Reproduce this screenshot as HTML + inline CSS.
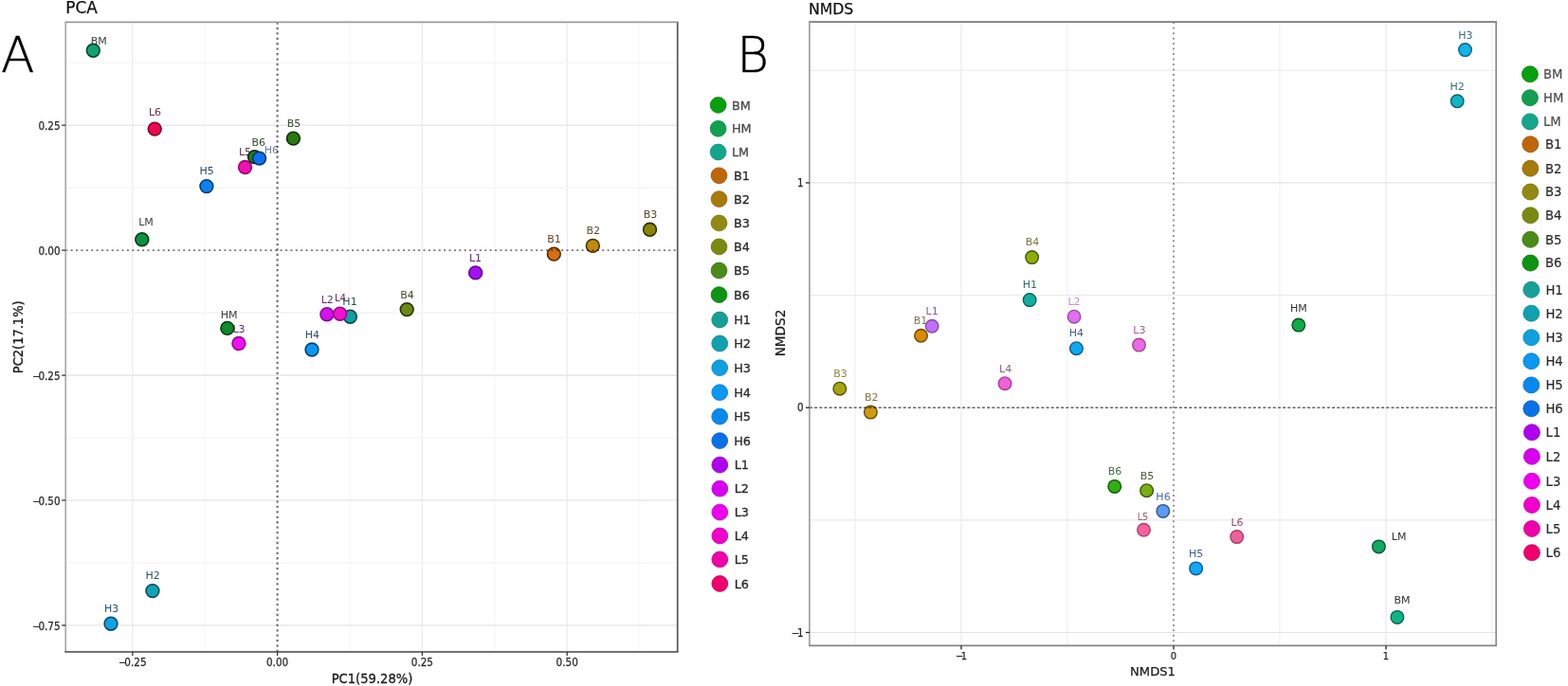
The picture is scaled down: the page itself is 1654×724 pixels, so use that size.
<!DOCTYPE html>
<html><head><meta charset="utf-8"><title>PCA and NMDS</title>
<style>html,body{margin:0;padding:0;background:#fff;}body{width:1654px;height:724px;overflow:hidden;}svg{display:block;}#w{width:1654px;height:724px;}</style>
</head><body><div id="w">
<svg width="1654" height="724" viewBox="0 0 1654 724" font-family='"DejaVu Sans", "Liberation Sans", sans-serif'>
<rect width="1654" height="724" fill="#ffffff"/>
<line x1="216.2" y1="23.4" x2="216.2" y2="688.0" stroke="#f9f9f9" stroke-width="1.6"/>
<line x1="369.0" y1="23.4" x2="369.0" y2="688.0" stroke="#f9f9f9" stroke-width="1.6"/>
<line x1="521.8" y1="23.4" x2="521.8" y2="688.0" stroke="#f9f9f9" stroke-width="1.6"/>
<line x1="674.6" y1="23.4" x2="674.6" y2="688.0" stroke="#f9f9f9" stroke-width="1.6"/>
<line x1="139.8" y1="23.4" x2="139.8" y2="688.0" stroke="#eeeeee" stroke-width="1.6"/>
<line x1="445.4" y1="23.4" x2="445.4" y2="688.0" stroke="#eeeeee" stroke-width="1.6"/>
<line x1="598.2" y1="23.4" x2="598.2" y2="688.0" stroke="#eeeeee" stroke-width="1.6"/>
<line x1="69.2" y1="66.2" x2="714.7" y2="66.2" stroke="#f6f6f6" stroke-width="1.6"/>
<line x1="69.2" y1="198.1" x2="714.7" y2="198.1" stroke="#f6f6f6" stroke-width="1.6"/>
<line x1="69.2" y1="330.1" x2="714.7" y2="330.1" stroke="#f6f6f6" stroke-width="1.6"/>
<line x1="69.2" y1="462.0" x2="714.7" y2="462.0" stroke="#f6f6f6" stroke-width="1.6"/>
<line x1="69.2" y1="594.0" x2="714.7" y2="594.0" stroke="#f6f6f6" stroke-width="1.6"/>
<line x1="69.2" y1="132.2" x2="714.7" y2="132.2" stroke="#e9e9e9" stroke-width="1.6"/>
<line x1="69.2" y1="396.1" x2="714.7" y2="396.1" stroke="#e9e9e9" stroke-width="1.6"/>
<line x1="69.2" y1="528.0" x2="714.7" y2="528.0" stroke="#e9e9e9" stroke-width="1.6"/>
<line x1="69.2" y1="660.0" x2="714.7" y2="660.0" stroke="#e9e9e9" stroke-width="1.6"/>
<circle cx="98.3" cy="53.3" r="10" fill="#fff"/>
<circle cx="239.8" cy="346.4" r="10" fill="#fff"/>
<circle cx="149.8" cy="252.7" r="10" fill="#fff"/>
<circle cx="584.3" cy="268.1" r="10" fill="#fff"/>
<circle cx="625.3" cy="259.4" r="10" fill="#fff"/>
<circle cx="685.5" cy="242.3" r="10" fill="#fff"/>
<circle cx="429.2" cy="326.6" r="10" fill="#fff"/>
<circle cx="309.4" cy="146.1" r="10" fill="#fff"/>
<circle cx="268.5" cy="165.6" r="10" fill="#fff"/>
<circle cx="369.4" cy="334.2" r="10" fill="#fff"/>
<circle cx="160.9" cy="623.6" r="10" fill="#fff"/>
<circle cx="117.0" cy="658.2" r="10" fill="#fff"/>
<circle cx="329.0" cy="369.0" r="10" fill="#fff"/>
<circle cx="217.9" cy="196.6" r="10" fill="#fff"/>
<circle cx="273.6" cy="167.1" r="10" fill="#fff"/>
<circle cx="501.6" cy="287.9" r="10" fill="#fff"/>
<circle cx="344.9" cy="331.7" r="10" fill="#fff"/>
<circle cx="251.9" cy="362.5" r="10" fill="#fff"/>
<circle cx="358.7" cy="331.2" r="10" fill="#fff"/>
<circle cx="258.5" cy="176.5" r="10" fill="#fff"/>
<circle cx="163.2" cy="136.1" r="10" fill="#fff"/>
<text x="104.2" y="47.0" fill="#404040" font-size="11" text-anchor="middle">BM</text>
<text x="241.7" y="336.4" fill="#404040" font-size="11" text-anchor="middle">HM</text>
<text x="154.0" y="238.0" fill="#404040" font-size="11" text-anchor="middle">LM</text>
<text x="584.6" y="255.7" fill="#61462d" font-size="11" text-anchor="middle">B1</text>
<text x="625.8" y="247.4" fill="#5c4d2c" font-size="11" text-anchor="middle">B2</text>
<text x="685.9" y="230.0" fill="#4d4c2a" font-size="11" text-anchor="middle">B3</text>
<text x="429.5" y="314.6" fill="#454d2d" font-size="11" text-anchor="middle">B4</text>
<text x="309.9" y="134.0" fill="#34492d" font-size="11" text-anchor="middle">B5</text>
<text x="272.8" y="153.9" fill="#304930" font-size="11" text-anchor="middle">B6</text>
<text x="369.0" y="322.0" fill="#2d5353" font-size="11" text-anchor="middle">H1</text>
<text x="161.1" y="611.4" fill="#2d5459" font-size="11" text-anchor="middle">H2</text>
<text x="117.6" y="646.2" fill="#2d5364" font-size="11" text-anchor="middle">H3</text>
<text x="329.3" y="357.4" fill="#2c5068" font-size="11" text-anchor="middle">H4</text>
<text x="218.2" y="184.0" fill="#2c4b67" font-size="11" text-anchor="middle">H5</text>
<text x="286.3" y="162.3" fill="#6a8498" font-size="11" text-anchor="middle">H6</text>
<text x="501.5" y="276.2" fill="#542d68" font-size="11" text-anchor="middle">L1</text>
<text x="345.2" y="320.0" fill="#612d68" font-size="11" text-anchor="middle">L2</text>
<text x="252.0" y="350.5" fill="#672d67" font-size="11" text-anchor="middle">L3</text>
<text x="359.0" y="318.2" fill="#682d5f" font-size="10.2" text-anchor="middle">L4</text>
<text x="258.5" y="163.7" fill="#672d57" font-size="11" text-anchor="middle">L5</text>
<text x="163.5" y="122.0" fill="#672c3e" font-size="11" text-anchor="middle">L6</text>
<circle cx="98.3" cy="53.3" r="6.9" fill="#12a272" stroke="#084430" stroke-width="1.6"/>
<circle cx="239.8" cy="346.4" r="6.9" fill="#0c8c2c" stroke="#053812" stroke-width="1.6"/>
<circle cx="149.8" cy="252.7" r="6.9" fill="#0c923e" stroke="#053a19" stroke-width="1.6"/>
<circle cx="584.3" cy="268.1" r="6.9" fill="#d8700e" stroke="#4c2705" stroke-width="1.6"/>
<circle cx="625.3" cy="259.4" r="6.9" fill="#c48a0c" stroke="#453004" stroke-width="1.6"/>
<circle cx="685.5" cy="242.3" r="6.9" fill="#8c8604" stroke="#312f01" stroke-width="1.6"/>
<circle cx="429.2" cy="326.6" r="6.9" fill="#6a8a10" stroke="#253006" stroke-width="1.6"/>
<circle cx="309.4" cy="146.1" r="6.9" fill="#2a7c10" stroke="#0f2b06" stroke-width="1.6"/>
<circle cx="268.5" cy="165.6" r="6.9" fill="#1a7c1a" stroke="#092b09" stroke-width="1.6"/>
<circle cx="369.4" cy="334.2" r="6.9" fill="#10a0a0" stroke="#074848" stroke-width="1.6"/>
<circle cx="160.9" cy="623.6" r="6.9" fill="#10a4b8" stroke="#074a53" stroke-width="1.6"/>
<circle cx="117.0" cy="658.2" r="6.9" fill="#10a0e4" stroke="#074867" stroke-width="1.6"/>
<circle cx="329.0" cy="369.0" r="6.9" fill="#0c98f2" stroke="#05446d" stroke-width="1.6"/>
<circle cx="217.9" cy="196.6" r="6.9" fill="#0c82f0" stroke="#053a6c" stroke-width="1.6"/>
<circle cx="273.6" cy="167.1" r="6.9" fill="#0c70f0" stroke="#05326c" stroke-width="1.6"/>
<circle cx="501.6" cy="287.9" r="6.9" fill="#a410f2" stroke="#660a96" stroke-width="1.6"/>
<circle cx="344.9" cy="331.7" r="6.9" fill="#d810f2" stroke="#860a96" stroke-width="1.6"/>
<circle cx="251.9" cy="362.5" r="6.9" fill="#f010f0" stroke="#950a95" stroke-width="1.6"/>
<circle cx="358.7" cy="331.2" r="6.9" fill="#f410d0" stroke="#970a81" stroke-width="1.6"/>
<circle cx="258.5" cy="176.5" r="6.9" fill="#f010b0" stroke="#950a6d" stroke-width="1.6"/>
<circle cx="163.2" cy="136.1" r="6.9" fill="#ee0a50" stroke="#770528" stroke-width="1.6"/>
<line x1="69.2" y1="264.1" x2="714.7" y2="264.1" stroke="#000" stroke-opacity="0.52" stroke-width="1.9" stroke-dasharray="2.1 3.29"/>
<line x1="292.6" y1="23.4" x2="292.6" y2="688.0" stroke="#000" stroke-opacity="0.58" stroke-width="2.1" stroke-dasharray="2.3 3.13"/>
<line x1="68.35000000000001" y1="23.4" x2="715.5500000000001" y2="23.4" stroke="#9a9a9a" stroke-width="1.7"/>
<line x1="69.2" y1="23.4" x2="69.2" y2="688.0" stroke="#ababab" stroke-width="1.7"/>
<line x1="714.7" y1="23.4" x2="714.7" y2="688.0" stroke="#555555" stroke-width="1.7"/>
<line x1="68.35000000000001" y1="688.0" x2="715.5500000000001" y2="688.0" stroke="#444444" stroke-width="1.7"/>
<line x1="139.8" y1="688.0" x2="139.8" y2="692.0" stroke="#333" stroke-width="1.3"/>
<text x="139.8" y="703.4" fill="#2a2a2a" font-size="11.6" font-stretch="condensed" text-anchor="middle" stroke="#2a2a2a" stroke-width="0.25">−<tspan dx="-2.5">0.25</tspan></text>
<line x1="292.6" y1="688.0" x2="292.6" y2="692.0" stroke="#333" stroke-width="1.3"/>
<text x="292.6" y="703.4" fill="#2a2a2a" font-size="11.6" font-stretch="condensed" text-anchor="middle" stroke="#2a2a2a" stroke-width="0.25">0.00</text>
<line x1="445.4" y1="688.0" x2="445.4" y2="692.0" stroke="#333" stroke-width="1.3"/>
<text x="445.4" y="703.4" fill="#2a2a2a" font-size="11.6" font-stretch="condensed" text-anchor="middle" stroke="#2a2a2a" stroke-width="0.25">0.25</text>
<line x1="598.2" y1="688.0" x2="598.2" y2="692.0" stroke="#333" stroke-width="1.3"/>
<text x="598.2" y="703.4" fill="#2a2a2a" font-size="11.6" font-stretch="condensed" text-anchor="middle" stroke="#2a2a2a" stroke-width="0.25">0.50</text>
<line x1="65.2" y1="132.2" x2="69.2" y2="132.2" stroke="#333" stroke-width="1.3"/>
<text x="63.6" y="137.4" fill="#2a2a2a" font-size="11.6" font-stretch="condensed" text-anchor="end" stroke="#2a2a2a" stroke-width="0.25">0.25</text>
<line x1="65.2" y1="264.1" x2="69.2" y2="264.1" stroke="#333" stroke-width="1.3"/>
<text x="63.6" y="269.3" fill="#2a2a2a" font-size="11.6" font-stretch="condensed" text-anchor="end" stroke="#2a2a2a" stroke-width="0.25">0.00</text>
<line x1="65.2" y1="396.1" x2="69.2" y2="396.1" stroke="#333" stroke-width="1.3"/>
<text x="63.6" y="401.2" fill="#2a2a2a" font-size="11.6" font-stretch="condensed" text-anchor="end" stroke="#2a2a2a" stroke-width="0.25">−<tspan dx="-2.5">0.25</tspan></text>
<line x1="65.2" y1="528.0" x2="69.2" y2="528.0" stroke="#333" stroke-width="1.3"/>
<text x="63.6" y="533.2" fill="#2a2a2a" font-size="11.6" font-stretch="condensed" text-anchor="end" stroke="#2a2a2a" stroke-width="0.25">−<tspan dx="-2.5">0.50</tspan></text>
<line x1="65.2" y1="660.0" x2="69.2" y2="660.0" stroke="#333" stroke-width="1.3"/>
<text x="63.6" y="665.2" fill="#2a2a2a" font-size="11.6" font-stretch="condensed" text-anchor="end" stroke="#2a2a2a" stroke-width="0.25">−<tspan dx="-2.5">0.75</tspan></text>
<text x="392.5" y="720.6" fill="#1a1a1a" stroke="#1a1a1a" stroke-width="0.3" font-size="14.6" font-stretch="condensed" text-anchor="middle">PC1(59.28%)</text>
<text transform="translate(24.0,355.8) rotate(-90)" fill="#1a1a1a" stroke="#1a1a1a" stroke-width="0.3" font-size="14.5" font-stretch="condensed" text-anchor="middle">PC2(17.1%)</text>
<text x="69.3" y="14.4" fill="#111" stroke="#111" stroke-width="0.25" font-size="16.9">PCA</text>
<text x="1.0" y="75.6" fill="#000" stroke="#000" stroke-width="0.45" font-size="51.8" font-weight="200">A</text>
<circle cx="757.6" cy="110.9" r="8.4" fill="#08a010" stroke="#06800d" stroke-width="0.8"/>
<text x="771.9" y="115.5" fill="#4a4a4a" stroke="#4a4a4a" font-size="12.8" stroke-width="0.3">BM</text>
<circle cx="757.6" cy="135.8" r="8.4" fill="#10a050" stroke="#0d8040" stroke-width="0.8"/>
<text x="771.9" y="140.4" fill="#4a4a4a" stroke="#4a4a4a" font-size="12.8" stroke-width="0.3">HM</text>
<circle cx="757.6" cy="160.5" r="8.4" fill="#14a68a" stroke="#10856e" stroke-width="0.8"/>
<text x="771.9" y="165.1" fill="#4a4a4a" stroke="#4a4a4a" font-size="12.8" stroke-width="0.3">LM</text>
<circle cx="758.5" cy="185.3" r="8.4" fill="#c0660a" stroke="#9a5208" stroke-width="0.8"/>
<text x="773.9" y="189.9" fill="#2a2a2a" stroke="#2a2a2a" font-size="12.8" stroke-width="0.3">B1</text>
<circle cx="758.5" cy="210.1" r="8.4" fill="#a87a0a" stroke="#866208" stroke-width="0.8"/>
<text x="773.9" y="214.7" fill="#2a2a2a" stroke="#2a2a2a" font-size="12.8" stroke-width="0.3">B2</text>
<circle cx="758.5" cy="235.4" r="8.4" fill="#928a10" stroke="#756e0d" stroke-width="0.8"/>
<text x="773.9" y="240.0" fill="#2a2a2a" stroke="#2a2a2a" font-size="12.8" stroke-width="0.3">B3</text>
<circle cx="758.5" cy="260.4" r="8.4" fill="#7a8a10" stroke="#626e0d" stroke-width="0.8"/>
<text x="773.9" y="265.0" fill="#2a2a2a" stroke="#2a2a2a" font-size="12.8" stroke-width="0.3">B4</text>
<circle cx="758.5" cy="285.5" r="8.4" fill="#4a8c18" stroke="#3b7013" stroke-width="0.8"/>
<text x="773.9" y="290.1" fill="#2a2a2a" stroke="#2a2a2a" font-size="12.8" stroke-width="0.3">B5</text>
<circle cx="758.5" cy="311.1" r="8.4" fill="#0c9412" stroke="#0a760e" stroke-width="0.8"/>
<text x="773.9" y="315.7" fill="#2a2a2a" stroke="#2a2a2a" font-size="12.8" stroke-width="0.3">B6</text>
<circle cx="759.2" cy="337.5" r="8.4" fill="#18a098" stroke="#13807a" stroke-width="0.8"/>
<text x="774.2" y="342.1" fill="#2a2a2a" stroke="#2a2a2a" font-size="12.8" stroke-width="0.3">H1</text>
<circle cx="759.2" cy="362.5" r="8.4" fill="#10a0b0" stroke="#0d808d" stroke-width="0.8"/>
<text x="774.2" y="367.1" fill="#2a2a2a" stroke="#2a2a2a" font-size="12.8" stroke-width="0.3">H2</text>
<circle cx="759.2" cy="388.2" r="8.4" fill="#10a0e0" stroke="#0d80b3" stroke-width="0.8"/>
<text x="774.2" y="392.8" fill="#2a2a2a" stroke="#2a2a2a" font-size="12.8" stroke-width="0.3">H3</text>
<circle cx="759.2" cy="414.2" r="8.4" fill="#0a98f0" stroke="#087ac0" stroke-width="0.8"/>
<text x="774.2" y="418.8" fill="#2a2a2a" stroke="#2a2a2a" font-size="12.8" stroke-width="0.3">H4</text>
<circle cx="759.2" cy="439.6" r="8.4" fill="#0a88f0" stroke="#086dc0" stroke-width="0.8"/>
<text x="774.2" y="444.2" fill="#2a2a2a" stroke="#2a2a2a" font-size="12.8" stroke-width="0.3">H5</text>
<circle cx="759.2" cy="465.1" r="8.4" fill="#0a70e8" stroke="#085aba" stroke-width="0.8"/>
<text x="774.2" y="469.7" fill="#2a2a2a" stroke="#2a2a2a" font-size="12.8" stroke-width="0.3">H6</text>
<circle cx="759.3" cy="490.6" r="8.4" fill="#b000f0" stroke="#8d00c0" stroke-width="0.8"/>
<text x="774.7" y="495.2" fill="#2a2a2a" stroke="#2a2a2a" font-size="12.8" stroke-width="0.3">L1</text>
<circle cx="759.3" cy="515.7" r="8.4" fill="#d800f0" stroke="#ad00c0" stroke-width="0.8"/>
<text x="774.7" y="520.3" fill="#2a2a2a" stroke="#2a2a2a" font-size="12.8" stroke-width="0.3">L2</text>
<circle cx="759.3" cy="540.6" r="8.4" fill="#ee00ee" stroke="#be00be" stroke-width="0.8"/>
<text x="774.7" y="545.2" fill="#2a2a2a" stroke="#2a2a2a" font-size="12.8" stroke-width="0.3">L3</text>
<circle cx="759.3" cy="565.5" r="8.4" fill="#f000cc" stroke="#c000a3" stroke-width="0.8"/>
<text x="774.7" y="570.1" fill="#2a2a2a" stroke="#2a2a2a" font-size="12.8" stroke-width="0.3">L4</text>
<circle cx="759.3" cy="590.4" r="8.4" fill="#f000a8" stroke="#c00086" stroke-width="0.8"/>
<text x="774.7" y="595.0" fill="#2a2a2a" stroke="#2a2a2a" font-size="12.8" stroke-width="0.3">L5</text>
<circle cx="759.3" cy="616.0" r="8.4" fill="#f0006c" stroke="#c00056" stroke-width="0.8"/>
<text x="774.7" y="620.6" fill="#2a2a2a" stroke="#2a2a2a" font-size="12.8" stroke-width="0.3">L6</text>
<line x1="902.0" y1="23.2" x2="902.0" y2="681.4" stroke="#f0f0f0" stroke-width="1.15"/>
<line x1="1126.0" y1="23.2" x2="1126.0" y2="681.4" stroke="#f0f0f0" stroke-width="1.15"/>
<line x1="1350.0" y1="23.2" x2="1350.0" y2="681.4" stroke="#f0f0f0" stroke-width="1.15"/>
<line x1="1574.0" y1="23.2" x2="1574.0" y2="681.4" stroke="#f0f0f0" stroke-width="1.15"/>
<line x1="1014.0" y1="23.2" x2="1014.0" y2="681.4" stroke="#e7e7e7" stroke-width="1.15"/>
<line x1="1462.0" y1="23.2" x2="1462.0" y2="681.4" stroke="#e7e7e7" stroke-width="1.15"/>
<line x1="853.9" y1="74.2" x2="1578.2" y2="74.2" stroke="#eaeaea" stroke-width="1.15"/>
<line x1="853.9" y1="311.5" x2="1578.2" y2="311.5" stroke="#eaeaea" stroke-width="1.15"/>
<line x1="853.9" y1="548.9" x2="1578.2" y2="548.9" stroke="#eaeaea" stroke-width="1.15"/>
<line x1="853.9" y1="192.9" x2="1578.2" y2="192.9" stroke="#e3e3e3" stroke-width="1.15"/>
<line x1="853.9" y1="667.5" x2="1578.2" y2="667.5" stroke="#e3e3e3" stroke-width="1.15"/>
<circle cx="1473.9" cy="651.4" r="9.5" fill="#fff"/>
<circle cx="1369.8" cy="343.1" r="9.5" fill="#fff"/>
<circle cx="1454.4" cy="576.9" r="9.5" fill="#fff"/>
<circle cx="971.5" cy="354.3" r="9.5" fill="#fff"/>
<circle cx="918.4" cy="435.1" r="9.5" fill="#fff"/>
<circle cx="885.8" cy="410.2" r="9.5" fill="#fff"/>
<circle cx="1088.6" cy="271.6" r="9.5" fill="#fff"/>
<circle cx="1209.6" cy="517.7" r="9.5" fill="#fff"/>
<circle cx="1175.7" cy="513.4" r="9.5" fill="#fff"/>
<circle cx="1086.1" cy="316.6" r="9.5" fill="#fff"/>
<circle cx="1537.2" cy="106.8" r="9.5" fill="#fff"/>
<circle cx="1545.5" cy="52.6" r="9.5" fill="#fff"/>
<circle cx="1135.4" cy="367.7" r="9.5" fill="#fff"/>
<circle cx="1261.6" cy="599.9" r="9.5" fill="#fff"/>
<circle cx="1226.8" cy="539.4" r="9.5" fill="#fff"/>
<circle cx="983.1" cy="344.3" r="9.5" fill="#fff"/>
<circle cx="1133.0" cy="334.2" r="9.5" fill="#fff"/>
<circle cx="1201.5" cy="364.1" r="9.5" fill="#fff"/>
<circle cx="1060.0" cy="404.7" r="9.5" fill="#fff"/>
<circle cx="1206.5" cy="559.3" r="9.5" fill="#fff"/>
<circle cx="1304.7" cy="566.6" r="9.5" fill="#fff"/>
<text x="1478.9" y="637.1" fill="#333333" font-size="11" text-anchor="middle">BM</text>
<text x="1369.8" y="329.0" fill="#333333" font-size="11" text-anchor="middle">HM</text>
<text x="1475.6" y="570.1" fill="#333333" font-size="11" text-anchor="middle">LM</text>
<text x="971.0" y="341.9" fill="#8a7050" font-size="11" text-anchor="middle">B1</text>
<text x="919.3" y="423.3" fill="#8a7040" font-size="11" text-anchor="middle">B2</text>
<text x="886.4" y="398.1" fill="#8a8a40" font-size="11" text-anchor="middle">B3</text>
<text x="1088.9" y="259.2" fill="#7a7a40" font-size="11" text-anchor="middle">B4</text>
<text x="1209.9" y="505.7" fill="#4a5a3a" font-size="11" text-anchor="middle">B5</text>
<text x="1176.1" y="501.4" fill="#3a6a3a" font-size="11" text-anchor="middle">B6</text>
<text x="1086.4" y="304.2" fill="#307070" font-size="11" text-anchor="middle">H1</text>
<text x="1537.2" y="95.3" fill="#3a6a70" font-size="11" text-anchor="middle">H2</text>
<text x="1545.8" y="40.7" fill="#3a6a80" font-size="11" text-anchor="middle">H3</text>
<text x="1135.4" y="355.2" fill="#3a6080" font-size="11" text-anchor="middle">H4</text>
<text x="1261.6" y="588.4" fill="#3a6090" font-size="11" text-anchor="middle">H5</text>
<text x="1227.0" y="527.5" fill="#4a6aa8" font-size="11" text-anchor="middle">H6</text>
<text x="983.1" y="332.1" fill="#8a5aa0" font-size="11" text-anchor="middle">L1</text>
<text x="1133.0" y="321.8" fill="#c090c8" font-size="11" text-anchor="middle">L2</text>
<text x="1201.9" y="351.5" fill="#a060a0" font-size="11" text-anchor="middle">L3</text>
<text x="1060.6" y="392.9" fill="#906080" font-size="11" text-anchor="middle">L4</text>
<text x="1205.5" y="549.3" fill="#a06070" font-size="9.8" text-anchor="middle">L5</text>
<text x="1305.0" y="555.2" fill="#904a70" font-size="11" text-anchor="middle">L6</text>
<circle cx="1473.9" cy="651.4" r="6.8" fill="#10b488" stroke="#09634b" stroke-width="1.4"/>
<circle cx="1369.8" cy="343.1" r="6.8" fill="#10aa48" stroke="#085524" stroke-width="1.4"/>
<circle cx="1454.4" cy="576.9" r="6.8" fill="#10aa62" stroke="#085531" stroke-width="1.4"/>
<circle cx="971.5" cy="354.3" r="6.8" fill="#d88a00" stroke="#6c4500" stroke-width="1.4"/>
<circle cx="918.4" cy="435.1" r="6.8" fill="#d09a10" stroke="#684d08" stroke-width="1.4"/>
<circle cx="885.8" cy="410.2" r="6.8" fill="#a8a410" stroke="#545208" stroke-width="1.4"/>
<circle cx="1088.6" cy="271.6" r="6.8" fill="#8cae04" stroke="#465702" stroke-width="1.4"/>
<circle cx="1209.6" cy="517.7" r="6.8" fill="#78b010" stroke="#3c5808" stroke-width="1.4"/>
<circle cx="1175.7" cy="513.4" r="6.8" fill="#30b010" stroke="#185808" stroke-width="1.4"/>
<circle cx="1086.1" cy="316.6" r="6.8" fill="#10b0a0" stroke="#096158" stroke-width="1.4"/>
<circle cx="1537.2" cy="106.8" r="6.8" fill="#10b4c4" stroke="#09636c" stroke-width="1.4"/>
<circle cx="1545.5" cy="52.6" r="6.8" fill="#10b4e8" stroke="#096380" stroke-width="1.4"/>
<circle cx="1135.4" cy="367.7" r="6.8" fill="#10a8f0" stroke="#095c84" stroke-width="1.4"/>
<circle cx="1261.6" cy="599.9" r="6.8" fill="#10a8f8" stroke="#095c88" stroke-width="1.4"/>
<circle cx="1226.8" cy="539.4" r="6.8" fill="#5a9af8" stroke="#325588" stroke-width="1.4"/>
<circle cx="983.1" cy="344.3" r="6.8" fill="#c070f8" stroke="#834ca9" stroke-width="1.4"/>
<circle cx="1133.0" cy="334.2" r="6.8" fill="#e070f0" stroke="#984ca3" stroke-width="1.4"/>
<circle cx="1201.5" cy="364.1" r="6.8" fill="#ec68e4" stroke="#a0479b" stroke-width="1.4"/>
<circle cx="1060.0" cy="404.7" r="6.8" fill="#f060d8" stroke="#a34193" stroke-width="1.4"/>
<circle cx="1206.5" cy="559.3" r="6.8" fill="#f860a0" stroke="#a9416d" stroke-width="1.4"/>
<circle cx="1304.7" cy="566.6" r="6.8" fill="#f0609a" stroke="#a34169" stroke-width="1.4"/>
<line x1="853.9" y1="430.2" x2="1578.2" y2="430.2" stroke="#000" stroke-opacity="0.62" stroke-width="1.5" stroke-dasharray="3 2.2"/>
<line x1="1238.0" y1="23.2" x2="1238.0" y2="681.4" stroke="#000" stroke-opacity="0.45" stroke-width="1.8" stroke-dasharray="2 3.48"/>
<line x1="853.05" y1="23.2" x2="1579.05" y2="23.2" stroke="#7a7a7a" stroke-width="1.7"/>
<line x1="853.9" y1="23.2" x2="853.9" y2="681.4" stroke="#a0a0a0" stroke-width="1.7"/>
<line x1="1578.2" y1="23.2" x2="1578.2" y2="681.4" stroke="#888888" stroke-width="1.7"/>
<line x1="853.05" y1="681.4" x2="1579.05" y2="681.4" stroke="#858585" stroke-width="1.7"/>
<line x1="1014.0" y1="681.4" x2="1014.0" y2="685.4" stroke="#222" stroke-width="1.3"/>
<text x="1014.0" y="696.0" fill="#2a2a2a" font-size="11" font-stretch="condensed" text-anchor="middle" stroke="#2a2a2a" stroke-width="0.25">−<tspan dx="-2.5">1</tspan></text>
<line x1="1238.0" y1="681.4" x2="1238.0" y2="685.4" stroke="#222" stroke-width="1.3"/>
<text x="1238.0" y="696.0" fill="#2a2a2a" font-size="11" font-stretch="condensed" text-anchor="middle" stroke="#2a2a2a" stroke-width="0.25">0</text>
<line x1="1462.0" y1="681.4" x2="1462.0" y2="685.4" stroke="#222" stroke-width="1.3"/>
<text x="1462.0" y="696.0" fill="#2a2a2a" font-size="11" font-stretch="condensed" text-anchor="middle" stroke="#2a2a2a" stroke-width="0.25">1</text>
<line x1="849.9" y1="192.9" x2="853.9" y2="192.9" stroke="#222" stroke-width="1.3"/>
<text x="847.6" y="197.1" fill="#2a2a2a" font-size="11.5" font-stretch="condensed" text-anchor="end" stroke="#2a2a2a" stroke-width="0.25">1</text>
<line x1="849.9" y1="430.2" x2="853.9" y2="430.2" stroke="#222" stroke-width="1.3"/>
<text x="847.6" y="434.4" fill="#2a2a2a" font-size="11.5" font-stretch="condensed" text-anchor="end" stroke="#2a2a2a" stroke-width="0.25">0</text>
<line x1="849.9" y1="667.5" x2="853.9" y2="667.5" stroke="#222" stroke-width="1.3"/>
<text x="847.6" y="671.7" fill="#2a2a2a" font-size="11.5" font-stretch="condensed" text-anchor="end" stroke="#2a2a2a" stroke-width="0.25">−<tspan dx="-2.5">1</tspan></text>
<text x="1216" y="713.2" fill="#1a1a1a" stroke="#1a1a1a" stroke-width="0.25" font-size="13.1" text-anchor="middle">NMDS1</text>
<text transform="translate(828.0,351.5) rotate(-90)" fill="#1a1a1a" stroke="#1a1a1a" stroke-width="0.25" font-size="13.6" text-anchor="middle">NMDS2</text>
<text x="853.0" y="14.6" fill="#111" stroke="#111" stroke-width="0.25" font-size="15.7">NMDS</text>
<text x="777.3" y="76.2" fill="#000" stroke="#000" stroke-width="0.45" font-size="51.5" font-weight="200">B</text>
<circle cx="1613.9" cy="78.3" r="8.5" fill="#08a010" stroke="#06800d" stroke-width="0.8"/>
<text x="1628.0" y="83.1" fill="#4a4a4a" stroke="#4a4a4a" font-size="13.2" stroke-width="0.15">BM</text>
<circle cx="1613.9" cy="103.2" r="8.5" fill="#10a050" stroke="#0d8040" stroke-width="0.8"/>
<text x="1628.0" y="108.0" fill="#4a4a4a" stroke="#4a4a4a" font-size="13.2" stroke-width="0.15">HM</text>
<circle cx="1613.9" cy="128.4" r="8.5" fill="#14a68a" stroke="#10856e" stroke-width="0.8"/>
<text x="1628.0" y="133.2" fill="#4a4a4a" stroke="#4a4a4a" font-size="13.2" stroke-width="0.15">LM</text>
<circle cx="1614.3" cy="152.3" r="8.5" fill="#c0660a" stroke="#9a5208" stroke-width="0.8"/>
<text x="1630.0" y="157.1" fill="#2a2a2a" stroke="#2a2a2a" font-size="13.2" stroke-width="0.15">B1</text>
<circle cx="1614.3" cy="177.7" r="8.5" fill="#a87a0a" stroke="#866208" stroke-width="0.8"/>
<text x="1630.0" y="182.5" fill="#2a2a2a" stroke="#2a2a2a" font-size="13.2" stroke-width="0.15">B2</text>
<circle cx="1614.3" cy="202.5" r="8.5" fill="#928a10" stroke="#756e0d" stroke-width="0.8"/>
<text x="1630.0" y="207.3" fill="#2a2a2a" stroke="#2a2a2a" font-size="13.2" stroke-width="0.15">B3</text>
<circle cx="1614.3" cy="227.3" r="8.5" fill="#7a8a10" stroke="#626e0d" stroke-width="0.8"/>
<text x="1630.0" y="232.1" fill="#2a2a2a" stroke="#2a2a2a" font-size="13.2" stroke-width="0.15">B4</text>
<circle cx="1614.3" cy="252.8" r="8.5" fill="#4a8c18" stroke="#3b7013" stroke-width="0.8"/>
<text x="1630.0" y="257.6" fill="#2a2a2a" stroke="#2a2a2a" font-size="13.2" stroke-width="0.15">B5</text>
<circle cx="1614.3" cy="277.6" r="8.5" fill="#0c9412" stroke="#0a760e" stroke-width="0.8"/>
<text x="1630.0" y="282.4" fill="#2a2a2a" stroke="#2a2a2a" font-size="13.2" stroke-width="0.15">B6</text>
<circle cx="1615.3" cy="305.8" r="8.5" fill="#18a098" stroke="#13807a" stroke-width="0.8"/>
<text x="1630.4" y="310.6" fill="#2a2a2a" stroke="#2a2a2a" font-size="13.2" stroke-width="0.15">H1</text>
<circle cx="1615.3" cy="330.7" r="8.5" fill="#10a0b0" stroke="#0d808d" stroke-width="0.8"/>
<text x="1630.4" y="335.5" fill="#2a2a2a" stroke="#2a2a2a" font-size="13.2" stroke-width="0.15">H2</text>
<circle cx="1615.3" cy="356.2" r="8.5" fill="#10a0e0" stroke="#0d80b3" stroke-width="0.8"/>
<text x="1630.4" y="361.0" fill="#2a2a2a" stroke="#2a2a2a" font-size="13.2" stroke-width="0.15">H3</text>
<circle cx="1615.3" cy="381.2" r="8.5" fill="#0a98f0" stroke="#087ac0" stroke-width="0.8"/>
<text x="1630.4" y="386.0" fill="#2a2a2a" stroke="#2a2a2a" font-size="13.2" stroke-width="0.15">H4</text>
<circle cx="1615.3" cy="406.4" r="8.5" fill="#0a88f0" stroke="#086dc0" stroke-width="0.8"/>
<text x="1630.4" y="411.2" fill="#2a2a2a" stroke="#2a2a2a" font-size="13.2" stroke-width="0.15">H5</text>
<circle cx="1615.3" cy="431.3" r="8.5" fill="#0a70e8" stroke="#085aba" stroke-width="0.8"/>
<text x="1630.4" y="436.1" fill="#2a2a2a" stroke="#2a2a2a" font-size="13.2" stroke-width="0.15">H6</text>
<circle cx="1615.9" cy="456.3" r="8.5" fill="#b000f0" stroke="#8d00c0" stroke-width="0.8"/>
<text x="1630.6" y="461.1" fill="#2a2a2a" stroke="#2a2a2a" font-size="13.2" stroke-width="0.15">L1</text>
<circle cx="1615.9" cy="481.8" r="8.5" fill="#d800f0" stroke="#ad00c0" stroke-width="0.8"/>
<text x="1630.6" y="486.6" fill="#2a2a2a" stroke="#2a2a2a" font-size="13.2" stroke-width="0.15">L2</text>
<circle cx="1615.9" cy="507.8" r="8.5" fill="#ee00ee" stroke="#be00be" stroke-width="0.8"/>
<text x="1630.6" y="512.6" fill="#2a2a2a" stroke="#2a2a2a" font-size="13.2" stroke-width="0.15">L3</text>
<circle cx="1615.9" cy="533.0" r="8.5" fill="#f000cc" stroke="#c000a3" stroke-width="0.8"/>
<text x="1630.6" y="537.8" fill="#2a2a2a" stroke="#2a2a2a" font-size="13.2" stroke-width="0.15">L4</text>
<circle cx="1615.9" cy="558.0" r="8.5" fill="#f000a8" stroke="#c00086" stroke-width="0.8"/>
<text x="1630.6" y="562.8" fill="#2a2a2a" stroke="#2a2a2a" font-size="13.2" stroke-width="0.15">L5</text>
<circle cx="1615.9" cy="583.2" r="8.5" fill="#f0006c" stroke="#c00056" stroke-width="0.8"/>
<text x="1630.6" y="588.0" fill="#2a2a2a" stroke="#2a2a2a" font-size="13.2" stroke-width="0.15">L6</text>
</svg>
</div></body></html>
